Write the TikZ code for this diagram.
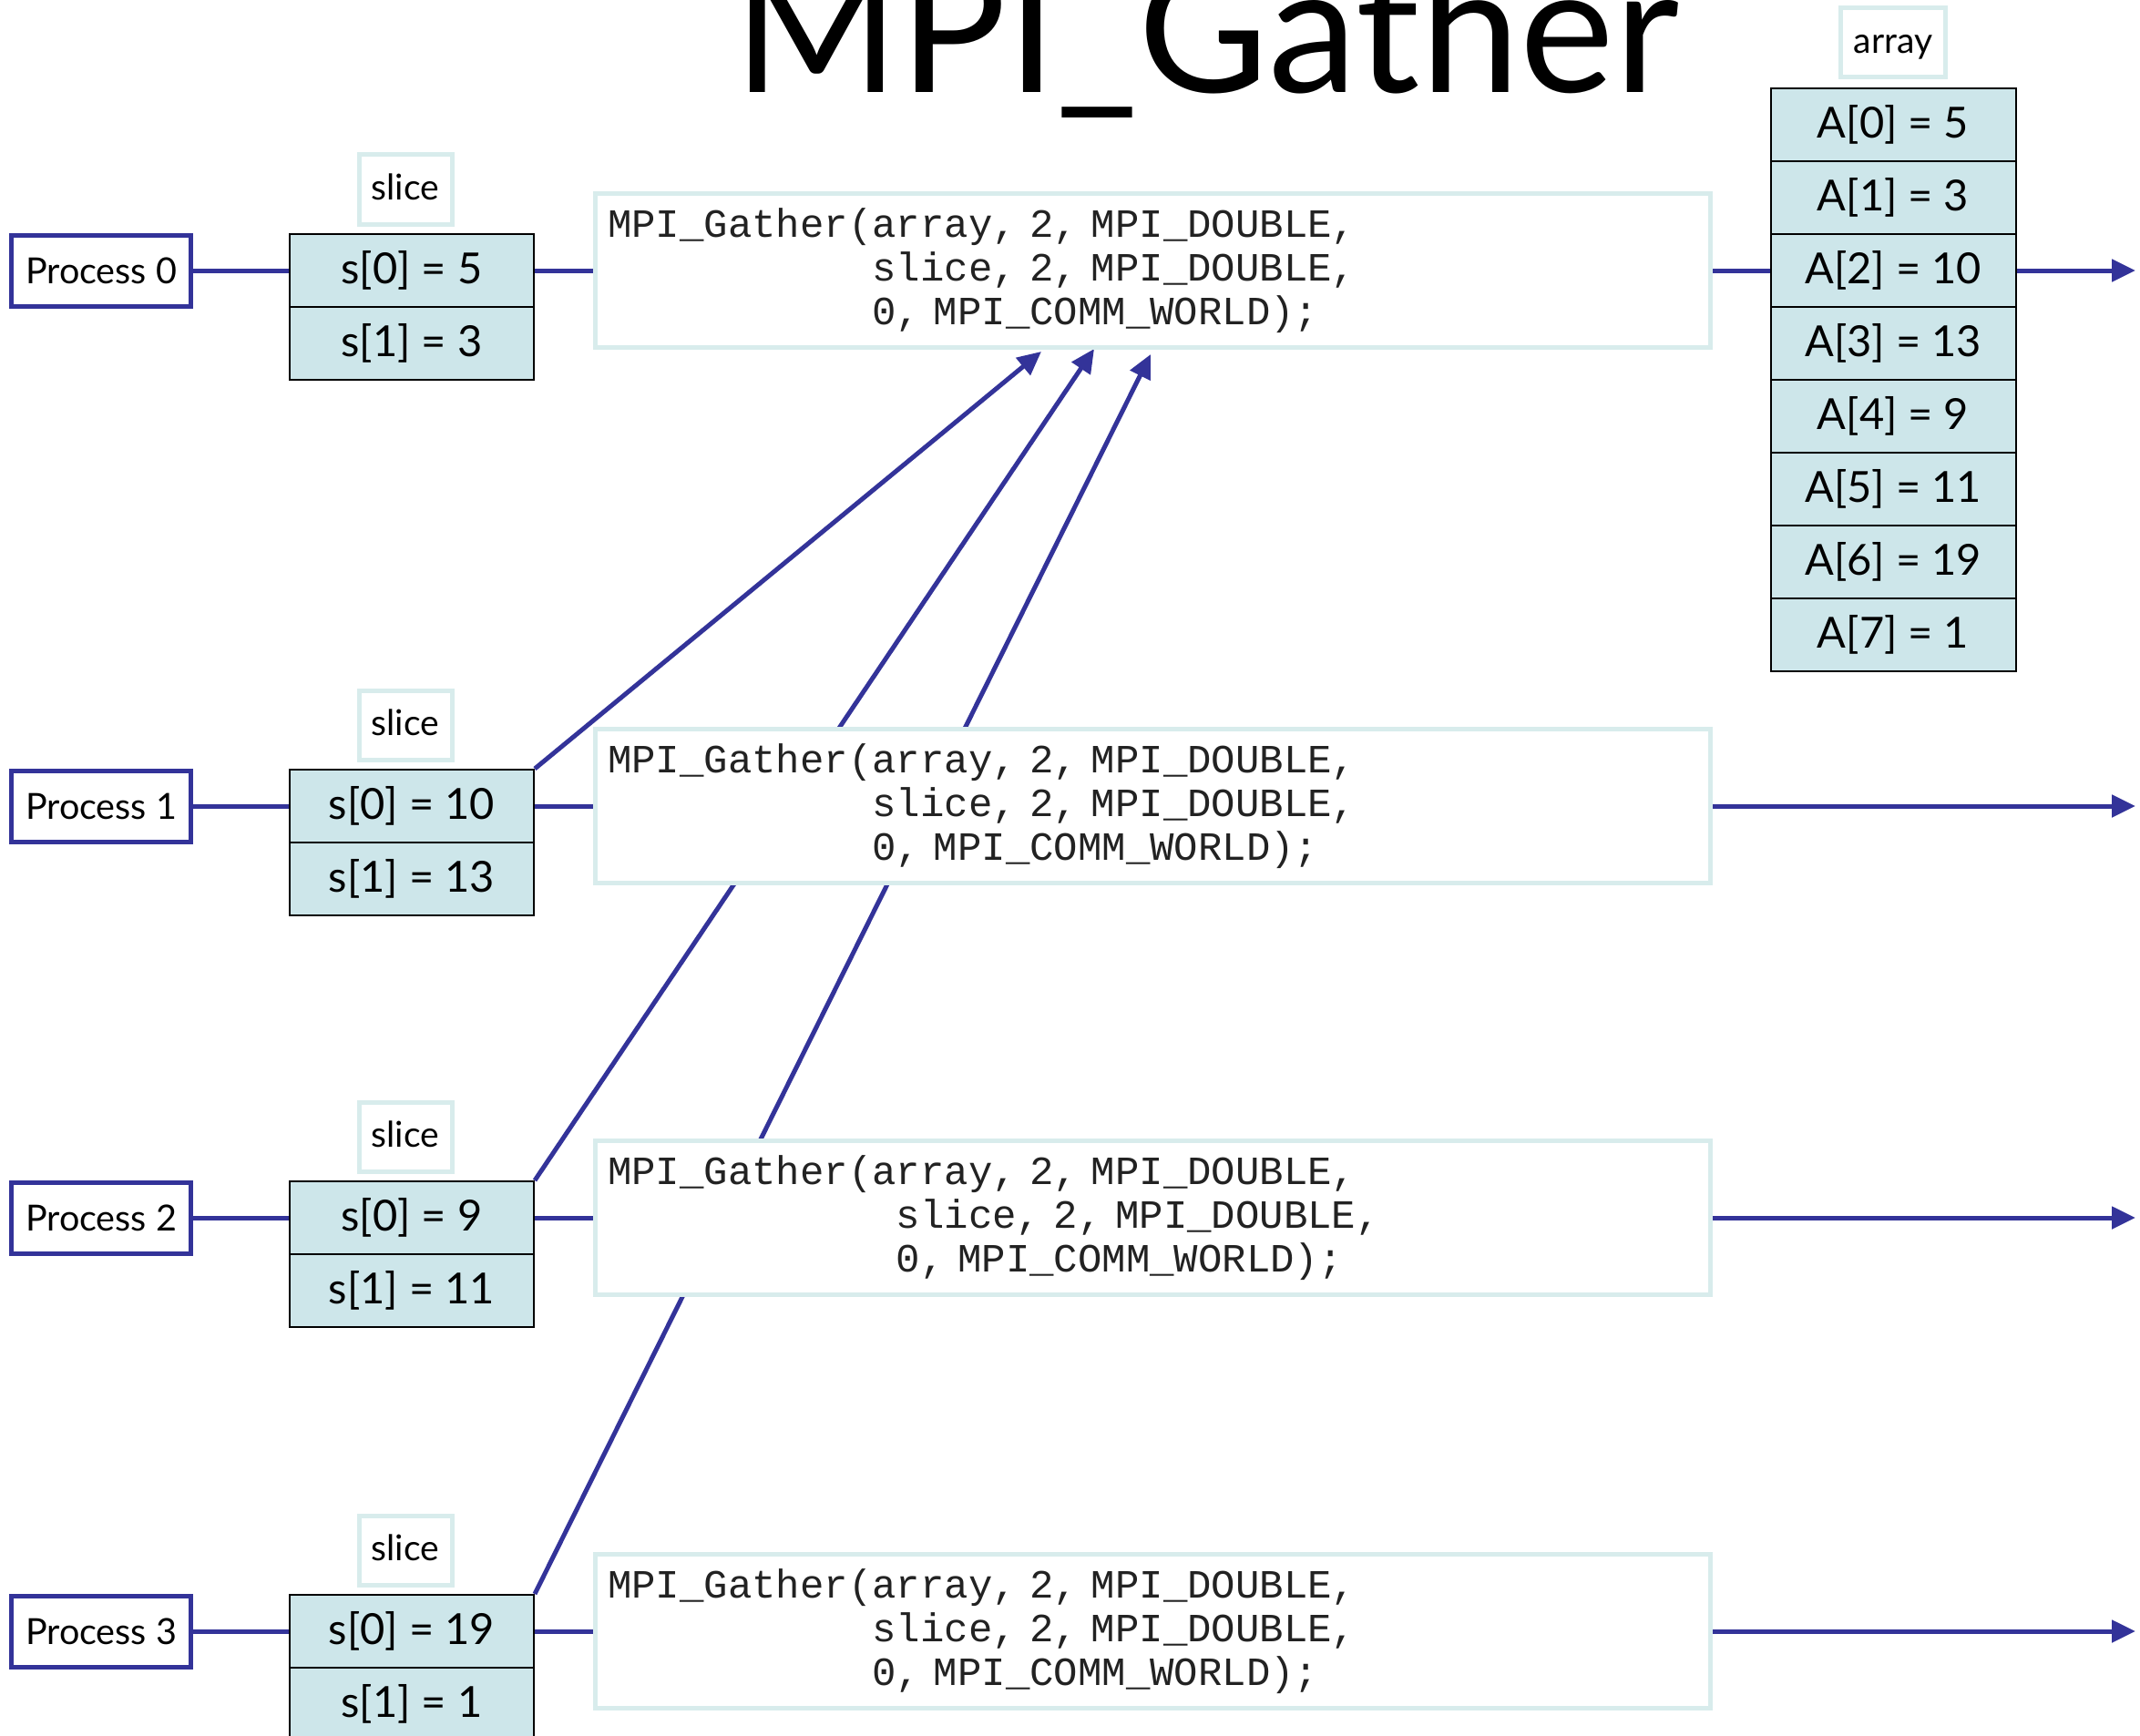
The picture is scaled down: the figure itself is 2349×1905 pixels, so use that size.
\documentclass[tikz,border=0pt]{standalone}
\usepackage{fontspec}
\setmainfont{Lato}
\setmonofont{Liberation Mono}
\usetikzlibrary{arrows.meta,backgrounds}

\definecolor{mpiLine}{HTML}{333399}
\definecolor{mpiCell}{HTML}{CDE6EA}
\definecolor{mpiFrame}{HTML}{D8ECEC}
\definecolor{mpiCode}{HTML}{222222}

% the call as each rank writes it; #1 is the indent of lines two and three
\newcommand{\gathercall}[1]{MPI\_Gather(array, 2, MPI\_DOUBLE,\\
  \hphantom{#1}slice, 2, MPI\_DOUBLE,\\
  \hphantom{#1}0, MPI\_COMM\_WORLD);}

\begin{document}
\begin{tikzpicture}[x=1pt, y=-1pt,
  proc/.style={draw=mpiLine, line width=5pt, fill=white, minimum width=197pt,
    minimum height=78pt, inner sep=0pt, font=\fontsize{39.5}{48}\selectfont},
  tag/.style={draw=mpiFrame, line width=5pt, fill=white, minimum width=102pt,
    minimum height=76pt, inner sep=0pt, text height=29pt, text depth=6pt,
    font=\fontsize{39}{44}\selectfont},
  cell/.style={draw=black, line width=2pt, fill=mpiCell, minimum width=268pt,
    minimum height=80pt, inner sep=0pt, font=\fontsize{47}{52}\selectfont},
  call/.style={draw=mpiFrame, line width=5pt, fill=white, minimum height=169pt,
    text width=1196pt, inner xsep=14pt, inner ysep=0pt, align=left, text=mpiCode,
    font=\ttfamily\fontsize{44}{48}\selectfont},
  link/.style={draw=mpiLine, line width=5pt},
  flow/.style={link, -{Triangle[length=26pt, width=24pt]}}]
\useasboundingbox (0,0) rectangle (2349,1905);
% title
\node[anchor=base, inner sep=0pt, font=\fontsize{196}{196}\selectfont] (title) at (1324,102) {MPI\_Gather};
% process 0
\node[proc] (p0) at (111,297) {Process 0};
\node[tag] (sl0) at (445,208) {slice};
\node[cell] (s00) at (452,297) {s[0] = 5};
\node[cell] (s01) at (452,377) {s[1] = 3};
\node[call] (g0) at (1265,297) {\gathercall{MPI\_Gather(}};
% process 1
\node[proc] (p1) at (111,885) {Process 1};
\node[tag] (sl1) at (445,796) {slice};
\node[cell] (s10) at (452,885) {s[0] = 10};
\node[cell] (s11) at (452,965) {s[1] = 13};
\node[call] (g1) at (1265,885) {\gathercall{MPI\_Gather(}};
% process 2
\node[proc] (p2) at (111,1337) {Process 2};
\node[tag] (sl2) at (445,1248) {slice};
\node[cell] (s20) at (452,1337) {s[0] = 9};
\node[cell] (s21) at (452,1417) {s[1] = 11};
\node[call] (g2) at (1265,1337) {\gathercall{MPI\_Gather(a}};
% process 3
\node[proc] (p3) at (111,1791) {Process 3};
\node[tag] (sl3) at (445,1702) {slice};
\node[cell] (s30) at (452,1791) {s[0] = 19};
\node[cell] (s31) at (452,1871) {s[1] = 1};
\node[call] (g3) at (1265,1791) {\gathercall{MPI\_Gather(}};
% gathered array on the root
\node[tag, minimum width=115pt] (arr) at (2078,47) {array};
\node[cell, minimum width=269pt] (a0) at (2078,137) {A[0] = 5};
\node[cell, minimum width=269pt] (a1) at (2078,217) {A[1] = 3};
\node[cell, minimum width=269pt] (a2) at (2078,297) {A[2] = 10};
\node[cell, minimum width=269pt] (a3) at (2078,377) {A[3] = 13};
\node[cell, minimum width=269pt] (a4) at (2078,457) {A[4] = 9};
\node[cell, minimum width=269pt] (a5) at (2078,537) {A[5] = 11};
\node[cell, minimum width=269pt] (a6) at (2078,617) {A[6] = 19};
\node[cell, minimum width=269pt] (a7) at (2078,697) {A[7] = 1};
% ends of the arrows
\coordinate (in1) at (1143,386);
\coordinate (in2) at (1201,383);
\coordinate (in3) at (1263,389);
\coordinate (e0) at (2344,297);
\coordinate (e1) at (2344,885);
\coordinate (e2) at (2344,1337);
\coordinate (e3) at (2344,1791);
% connectors, behind the boxes
\begin{scope}[on background layer]
\draw[link] (p0) -- (s00);
\draw[link] (s00) -- (g0);
\draw[link] (g0) -- (a2);
\draw[flow] (a2) -- (e0);
\draw[link] (p1) -- (s10);
\draw[link] (s10) -- (g1);
\draw[flow] (g1) -- (e1);
\draw[link] (p2) -- (s20);
\draw[link] (s20) -- (g2);
\draw[flow] (g2) -- (e2);
\draw[link] (p3) -- (s30);
\draw[link] (s30) -- (g3);
\draw[flow] (g3) -- (e3);
\draw[flow] (s10.north east) -- (in1);
\draw[flow] (s20.north east) -- (in2);
\draw[flow] (s30.north east) -- (in3);
\end{scope}
\end{tikzpicture}
\end{document}
